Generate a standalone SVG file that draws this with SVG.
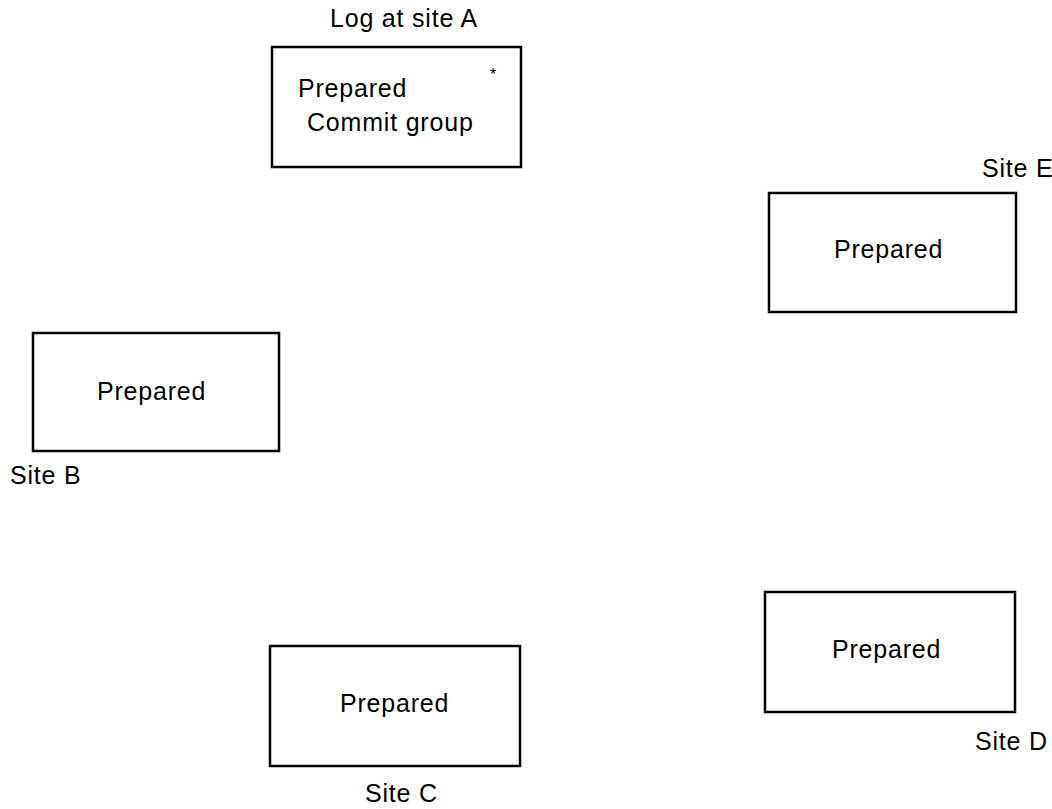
<svg xmlns="http://www.w3.org/2000/svg" width="1052" height="809" viewBox="0 0 1052 809">
  <style>
    .box { fill: #ffffff; stroke: #000000; stroke-width: 2.5; }
    .t { font-family: "Liberation Sans", Arial, sans-serif; font-size: 25px; letter-spacing: 0.8px; fill: #000000; }
  </style>
  <rect width="1052" height="809" fill="#ffffff"/>

  <!-- Site A: log record -->
  <g id="site-a">
    <text class="t" x="330" y="27">Log at site A</text>
    <rect class="box" x="272" y="47" width="249" height="120"/>
    <text class="t" x="298" y="97">Prepared</text>
    <text class="t" x="307" y="131">Commit group</text>
    <text class="t" x="490" y="80" style="font-size:16px">*</text>
  </g>

  <!-- Site B -->
  <g id="site-b">
    <rect class="box" x="33" y="333" width="246" height="118"/>
    <text class="t" x="97" y="400">Prepared</text>
    <text class="t" x="10" y="484">Site B</text>
  </g>

  <!-- Site C -->
  <g id="site-c">
    <rect class="box" x="270" y="646" width="250" height="120"/>
    <text class="t" x="340" y="712">Prepared</text>
    <text class="t" x="365" y="802">Site C</text>
  </g>

  <!-- Site D -->
  <g id="site-d">
    <rect class="box" x="765" y="592" width="250" height="120"/>
    <text class="t" x="832" y="658">Prepared</text>
    <text class="t" x="975" y="750">Site D</text>
  </g>

  <!-- Site E -->
  <g id="site-e">
    <rect class="box" x="769" y="193" width="247" height="119"/>
    <text class="t" x="834" y="258">Prepared</text>
    <text class="t" x="982" y="177">Site E</text>
  </g>

  <g id="connectors"/>
</svg>
